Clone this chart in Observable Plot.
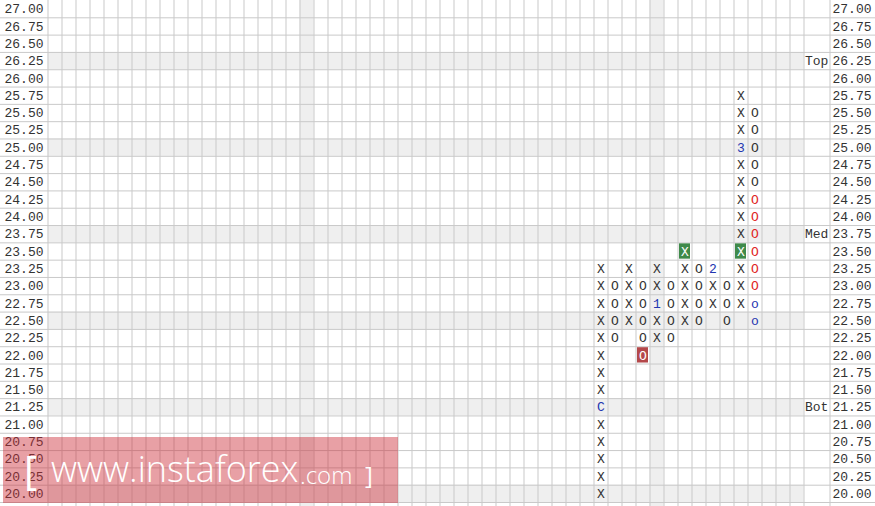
<!DOCTYPE html>
<html>
<head>
<meta charset="utf-8">
<script src="https://cdn.jsdelivr.net/npm/d3@7"></script>
<script src="https://cdn.jsdelivr.net/npm/@observablehq/plot@0.6"></script>
<style>
  html, body { margin: 0; padding: 0; background: #fff; }
  #wrap { position: relative; width: 875px; height: 506px; overflow: hidden; }
  #wm { position: absolute; left: 3px; top: 437px; width: 395px; height: 66px; background: rgba(204,44,55,0.45); }
  #wm span { position: absolute; color: #fff; font-family: "Open Sans", sans-serif; font-weight: 300; white-space: pre; line-height: 1; }
</style>
</head>
<body>
<div id="wrap">
  <div id="chart"></div>
  <div id="wm">
    <span style="left:21px; top:13px; font-size:40px; font-weight:400;">[</span>
    <span style="left:48px; top:14px; font-size:36px;">www.instaforex</span>
    <span style="left:297px; top:26px; font-size:24px;">.com</span>
    <span style="left:362px; top:26px; font-size:24px; font-weight:400;">]</span>
  </div>
</div>
<script>
// Price levels (tick labels), top to bottom
const priceTicks = [27.00, 26.75, 26.50, 26.25, 26.00, 25.75, 25.50, 25.25, 25.00, 24.75, 24.50, 24.25, 24.00, 23.75, 23.50, 23.25, 23.00, 22.75, 22.50, 22.25, 22.00, 21.75, 21.50, 21.25, 21.00, 20.75, 20.50, 20.25, 20.00];
const shadedRows = [26.25, 25.00, 23.75, 22.50, 21.25, 20.00];
const levelNames = ["Top", "Med", "Bot"];
const levelPrices = [26.25, 23.75, 21.25];
const nCols = 54;
const shadedCols = [18, 43];

// Point & figure columns
const colIndex = [39, 40, 41, 42, 43, 44, 45, 46, 47, 48, 49, 50];
const colType  = ["X", "O", "X", "O", "X", "O", "X", "O", "X", "O", "X", "O"];
const colLow   = [20.00, 22.25, 22.50, 22.00, 22.25, 22.25, 22.50, 22.50, 22.75, 22.50, 22.75, 22.50];
const colHigh  = [23.25, 23.00, 23.25, 23.00, 23.25, 23.00, 23.50, 23.25, 23.25, 23.00, 25.75, 25.50];

// Special cells
const monthCol = [39, 43, 47, 49];
const monthPrice = [21.25, 22.75, 23.25, 25.00];
const monthLabel = ["C", "1", "2", "3"];
const boxUpCol = [45, 49];
const boxUpPrice = [23.50, 23.50];
const boxDownCol = [42];
const boxDownPrice = [22.00];
const redOCol = [50, 50, 50, 50, 50, 50];
const redOPrice = [24.25, 24.00, 23.75, 23.50, 23.25, 23.00];
const smallOCol = [50, 50];
const smallOPrice = [22.75, 22.50];

const key = (c, p) => c + "|" + p.toFixed(2);
const cells = [];
colIndex.forEach((c, i) => {
  for (let k = Math.round(colLow[i] / 0.25); k <= Math.round(colHigh[i] / 0.25); k++) {
    cells.push({col: c, price: k * 0.25, sym: colType[i], kind: "plain"});
  }
});
const byKey = new Map(cells.map(d => [key(d.col, d.price), d]));
monthCol.forEach((c, i) => { const d = byKey.get(key(c, monthPrice[i])); d.sym = monthLabel[i]; d.kind = "month"; });
boxUpCol.forEach((c, i) => { byKey.get(key(c, boxUpPrice[i])).kind = "boxUp"; });
boxDownCol.forEach((c, i) => { byKey.get(key(c, boxDownPrice[i])).kind = "boxDown"; });
redOCol.forEach((c, i) => { byKey.get(key(c, redOPrice[i])).kind = "redO"; });
smallOCol.forEach((c, i) => { const d = byKey.get(key(c, smallOPrice[i])); d.sym = "o"; d.kind = "smallO"; });

const textColor = {plain: "#333", month: "#2236b0", boxUp: "#fff", boxDown: "#fff", redO: "#e02424", smallO: "#2236b0"};
const boxes = cells.filter(d => d.kind === "boxUp" || d.kind === "boxDown");

const half = 0.125;
const rowBounds = priceTicks.map(p => p - half);
const colBounds = d3.range(0, nCols + 1);
const mono = "'Liberation Mono', 'Courier New', monospace";

const chart = Plot.plot({
  width: 875,
  height: 506,
  marginLeft: 47.5,
  marginRight: 71.5,
  marginTop: 0,
  marginBottom: 4,
  x: {type: "linear", domain: [0, nCols], axis: null},
  y: {type: "linear", domain: [priceTicks[priceTicks.length - 1] - half, priceTicks[0] + half], axis: null},
  style: {fontFamily: mono, fontSize: "13px", background: "#fff"},
  marks: [
    Plot.rect(shadedRows, {x1: () => 0, x2: () => nCols, y1: d => d - half, y2: d => d + half, fill: "#efefef"}),
    Plot.rect(shadedCols, {x1: d => d, x2: d => d + 1, y1: () => priceTicks[priceTicks.length - 1] - half, y2: () => priceTicks[0] + half, insetBottom: -4, fill: "#efefef"}),
    Plot.ruleY(rowBounds, {stroke: "#c9c9c9", strokeWidth: 1, insetLeft: -47.5, insetRight: -71.5}),
    Plot.ruleX(colBounds, {stroke: "#c9c9c9", strokeWidth: 1, insetBottom: -4}),
    Plot.ruleX([nCols], {stroke: "#c9c9c9", strokeWidth: 1, dx: 26, insetBottom: -4}),
    Plot.rect(boxes, {x1: d => d.col, x2: d => d.col + 1, y1: d => d.price - half, y2: d => d.price + half, insetLeft: 1.5, insetRight: 1.5, insetTop: 1, insetBottom: 1, fill: d => d.kind === "boxUp" ? "#3f8a4a" : "#b4484a"}),
    Plot.text(cells, {x: d => d.col + 0.5, y: "price", text: "sym", fill: d => textColor[d.kind], fontFamily: mono, fontSize: 13}),
    Plot.text(levelNames, {x: () => nCols, y: (d, i) => levelPrices[i], text: d => d, textAnchor: "start", dx: 1, fill: "#333", fontFamily: mono, fontSize: 13}),
    Plot.axisY({anchor: "left", ticks: priceTicks, tickSize: 0, tickPadding: 4.5, tickFormat: d => d.toFixed(2), label: null, fill: "#333", fontFamily: mono, fontSize: 13}),
    Plot.axisY({anchor: "right", ticks: priceTicks, tickSize: 0, tickPadding: 28.5, tickFormat: d => d.toFixed(2), label: null, fill: "#333", fontFamily: mono, fontSize: 13})
  ]
});
document.getElementById("chart").appendChild(chart);
</script>
</body>
</html>
